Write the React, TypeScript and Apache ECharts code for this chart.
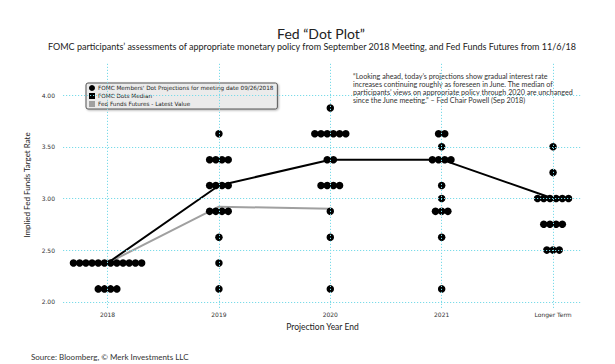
import React, { useEffect, useRef } from "react";
import * as echarts from "echarts";

const categories = ["2018", "2019", "2020", "2021", "Longer Term"];
// [rate, number of participants]
const dots2018 = [[2.375, 12], [2.125, 4]];
const dots2019 = [[3.625, 1], [3.375, 4], [3.125, 4], [2.875, 4], [2.625, 1], [2.375, 1], [2.125, 1]];
const dots2020 = [[3.875, 1], [3.625, 6], [3.375, 2], [3.125, 4], [2.875, 1], [2.625, 1], [2.125, 1]];
const dots2021 = [[3.625, 2], [3.5, 1], [3.375, 4], [3.125, 1], [3.0, 1], [2.875, 3], [2.625, 1], [2.125, 1]];
const dotsLonger = [[3.5, 1], [3.25, 1], [3.0, 6], [2.75, 4], [2.5, 3]];
const medianValues = [2.375, 3.125, 3.375, 3.375, 3.0];
const futuresValues = [2.375, 2.92, 2.9];
const yTicks = [2, 2.5, 3, 3.5, 4];
const xTicks = [0, 1, 2, 3, 4];

const dotsName = "FOMC Members' Dot Projections for meeting date 09/26/2018";
const medianName = "FOMC Dots Median";
const futuresName = "Fed Funds Futures - Latest Value";
const quoteLines = [
  "\u201cLooking ahead, today\u2019s projections show gradual interest rate",
  "increases continuing roughly as foreseen in June. The median of",
  "participants\u2019 views on appropriate policy through 2020 are unchanged",
  "since the June meeting.\u201d \u2013 Fed Chair Powell (Sep 2018)",
];

const DOT_GAP = 6.2;
const GRID_COLOR = "#7adbe9";
const SANS = "Lato, 'Open Sans', sans-serif";
const SMALL = "'DejaVu Sans', Verdana, sans-serif";

export default function App() {
  const ref = useRef<HTMLDivElement>(null);
  useEffect(() => {
    if (!ref.current) return;
    const chart = echarts.init(ref.current, undefined, { renderer: "svg" });
    const allDots = [dots2018, dots2019, dots2020, dots2021, dotsLonger];
    const dotData: any[] = [];
    allDots.forEach((rows, ci) => {
      rows.forEach(([rate, count]) => {
        for (let j = 0; j < count; j++) {
          dotData.push({ value: [ci, rate], symbolOffset: [(j - (count - 1) / 2) * DOT_GAP, 0] });
        }
      });
    });
    const gridLineStyle = { color: GRID_COLOR, type: [1.2, 1.8], width: 1 };
    chart.setOption({
      animation: false,
      backgroundColor: "#ffffff",
      grid: { left: 63, right: 33, top: 62, bottom: 56 },
      graphic: [
        {
          type: "text",
          x: 321,
          y: 33,
          style: { text: "Fed \u201cDot Plot\u201d", font: `14px ${SANS}`, fill: "#222", align: "center", verticalAlign: "middle" },
        },
        {
          type: "text",
          x: 312,
          y: 46,
          style: {
            text: "FOMC participants\u2019 assessments of appropriate monetary policy from September 2018 Meeting, and Fed Funds Futures from 11/6/18",
            font: `9px ${SANS}`,
            fill: "#222",
            align: "center",
            verticalAlign: "middle",
          },
        },
        {
          type: "text",
          x: 353,
          y: 72,
          style: { text: quoteLines.join("\n"), font: `7.2px ${SANS}`, lineHeight: 8, fill: "#333", align: "left", verticalAlign: "top" },
        },
        {
          type: "text",
          x: 31,
          y: 357,
          style: { text: "Source: Bloomberg, \u00a9 Merk Investments LLC", font: `8px ${SANS}`, fill: "#333", align: "left", verticalAlign: "middle" },
        },
      ],
      legend: {
        left: 86,
        top: 83,
        orient: "vertical",
        backgroundColor: "#ebebeb",
        borderColor: "#555",
        borderWidth: 1,
        borderRadius: 2,
        shadowBlur: 2,
        shadowColor: "rgba(0,0,0,0.3)",
        shadowOffsetX: 1,
        shadowOffsetY: 1,
        padding: [2, 4, 2, 3],
        itemGap: 2,
        itemWidth: 6,
        itemHeight: 6,
        textStyle: { fontFamily: SMALL, fontSize: 5.7, color: "#222", padding: [0, 0, 0, -2] },
        data: [
          { name: dotsName, icon: "circle", itemStyle: { color: "#000", borderWidth: 0 } },
          { name: medianName, icon: "rect", itemStyle: { color: "#000", borderWidth: 0 } },
          { name: futuresName, icon: "rect", itemStyle: { color: "#a0a0a0", borderWidth: 0 } },
        ],
      },
      xAxis: {
        type: "value",
        min: -0.4,
        max: 4.26,
        name: "Projection Year End",
        nameLocation: "middle",
        nameGap: 14,
        nameTextStyle: { fontFamily: SANS, fontSize: 8.5, color: "#222" },
        axisLine: { show: false },
        axisTick: { show: false },
        splitLine: { show: false },
        axisLabel: {
          customValues: xTicks,
          formatter: (v: number) => categories[Math.round(v)] ?? "",
          fontFamily: SMALL,
          fontSize: 6,
          color: "#333",
          margin: 3,
        },
      },
      yAxis: {
        type: "value",
        min: 1.94,
        max: 4.32,
        name: "Implied Fed Funds Target Rate",
        nameLocation: "middle",
        nameGap: 25,
        nameRotate: 90,
        nameTextStyle: { fontFamily: SANS, fontSize: 8, color: "#222" },
        axisLine: { show: false },
        axisTick: { show: false },
        splitLine: { show: false },
        axisLabel: {
          customValues: yTicks,
          formatter: (v: number) => v.toFixed(2),
          fontFamily: SMALL,
          fontSize: 6,
          color: "#333",
          margin: 8,
        },
      },
      series: [
        {
          name: "gridV",
          type: "line",
          z: 0,
          data: [],
          markLine: {
            silent: true,
            symbol: "none",
            label: { show: false },
            lineStyle: gridLineStyle,
            data: xTicks.map((x) => [
              { coord: [x, 1.94] },
              { coord: [x, 4.32] },
            ]),
          },
        },
        {
          name: futuresName,
          type: "line",
          z: 1,
          data: futuresValues.map((v, i) => [i, v]),
          showSymbol: false,
          symbol: "none",
          itemStyle: { color: "#a0a0a0", borderWidth: 0 },
          lineStyle: { color: "#a0a0a0", width: 2 },
          markLine: {
            silent: true,
            symbol: "none",
            label: { show: false },
            lineStyle: gridLineStyle,
            data: yTicks.map((y) => ({ yAxis: y })),
          },
        },
        {
          name: medianName,
          type: "line",
          z: 2,
          data: medianValues.map((v, i) => [i, v]),
          showSymbol: false,
          symbol: "none",
          itemStyle: { color: "#000", borderWidth: 0 },
          lineStyle: { color: "#000", width: 2 },
        },
        {
          name: dotsName,
          type: "scatter",
          z: 3,
          symbol: "circle",
          symbolSize: 7.5,
          itemStyle: { color: "#000", opacity: 1, borderWidth: 0 },
          data: dotData,
        },
      ],
    });
    return () => chart.dispose();
  }, []);
  return <div ref={ref} style={{ width: 615, height: 364, position: "absolute", left: 0, top: 0 }} />;
}
